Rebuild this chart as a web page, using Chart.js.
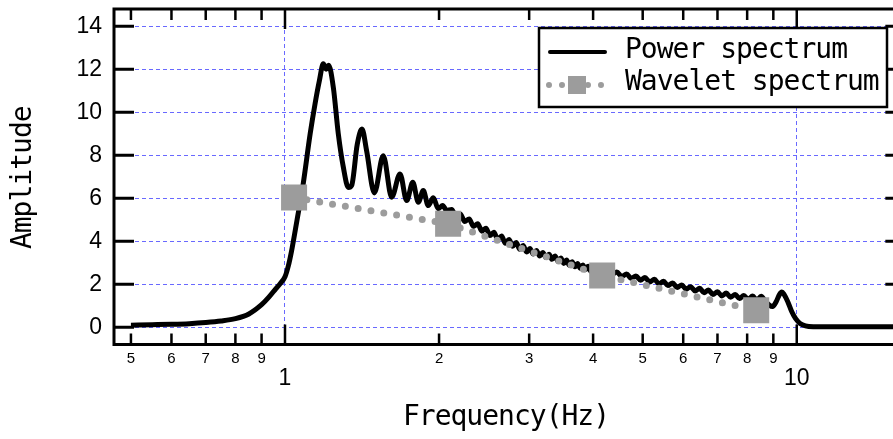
<!DOCTYPE html>
<html>
<head>
<meta charset="utf-8">
<script src="https://cdn.jsdelivr.net/npm/chart.js@4.4.1/dist/chart.umd.min.js"></script>
<style>
  html, body { margin: 0; padding: 0; background: #fff; overflow: hidden; }
  canvas { display: block; }
</style>
</head>
<body>
<canvas id="spectrumChart" width="893" height="439"></canvas>
<script>
// Power spectrum (Hz, amplitude)
const powerFreq = [
  0.50, 0.55, 0.60, 0.65, 0.70, 0.75, 0.80, 0.85, 0.90, 0.93,
  0.96, 0.98, 1.00, 1.015, 1.03, 1.055, 1.085, 1.12, 1.145, 1.167,
  1.188, 1.203, 1.217, 1.243, 1.271, 1.30, 1.33, 1.35, 1.384, 1.414,
  1.444, 1.495, 1.556, 1.616, 1.678, 1.729, 1.777, 1.822, 1.863, 1.905,
  1.949, 1.993, 2.033, 2.07, 2.117, 2.16, 2.20, 2.245, 2.29, 2.335,
  2.38, 2.425, 2.47, 2.515, 2.56, 2.605, 2.65, 2.695, 2.74, 2.785,
  2.83, 2.875, 2.92, 2.965, 3.01, 3.055, 3.10, 3.145, 3.19, 3.235,
  3.28, 3.325, 3.37, 3.415, 3.46, 3.505, 3.55, 3.595, 3.64, 3.685,
  3.73, 3.775, 3.82, 3.865, 3.91, 3.955, 4.05, 4.15, 4.25, 4.35,
  4.45, 4.55, 4.65, 4.75, 4.85, 4.95, 5.05, 5.16, 5.27, 5.38,
  5.49, 5.60, 5.72, 5.84, 5.96, 6.08, 6.20, 6.33, 6.46, 6.59,
  6.72, 6.86, 7.00, 7.14, 7.28, 7.43, 7.58, 7.73, 7.88, 8.04,
  8.20, 8.36, 8.52, 8.68, 8.85, 8.97, 9.12, 9.25, 9.35, 9.45,
  9.60, 9.78, 9.95, 10.15, 10.4, 10.8, 12, 14, 16.3
];
const powerAmp = [
  0.10, 0.12, 0.14, 0.17, 0.22, 0.29, 0.40, 0.62, 1.05, 1.40,
  1.80, 2.05, 2.35, 2.85, 3.55, 4.95, 6.65, 9.00, 10.40, 11.45,
  12.25, 12.00, 12.18, 11.15, 9.00, 7.45, 6.50, 6.60, 8.50, 9.22,
  8.20, 6.25, 7.98, 6.05, 7.13, 5.89, 6.74, 5.81, 6.36, 5.66,
  6.02, 5.51, 5.66, 5.43, 5.48, 5.13, 5.27, 4.92, 5.04, 4.69,
  4.82, 4.47, 4.61, 4.27, 4.42, 4.09, 4.24, 3.91, 4.08, 3.77,
  3.94, 3.63, 3.80, 3.50, 3.66, 3.41, 3.57, 3.32, 3.48, 3.24,
  3.40, 3.16, 3.31, 3.07, 3.22, 2.97, 3.13, 2.88, 3.05, 2.81,
  2.97, 2.74, 2.90, 2.67, 2.84, 2.61, 2.74, 2.54, 2.66, 2.45,
  2.57, 2.37, 2.48, 2.27, 2.39, 2.19, 2.31, 2.11, 2.23, 2.02,
  2.14, 1.94, 2.06, 1.85, 1.97, 1.77, 1.89, 1.69, 1.81, 1.61,
  1.73, 1.53, 1.65, 1.46, 1.59, 1.40, 1.53, 1.34, 1.48, 1.30,
  1.45, 1.26, 1.44, 1.22, 1.02, 0.97, 1.20, 1.52, 1.64, 1.52,
  1.20, 0.72, 0.40, 0.18, 0.07, 0.03, 0.02, 0.02, 0.02
];

// Wavelet spectrum
const waveletFreq = [1.0417, 2.0833, 4.1667, 8.3333];
const waveletAmp = [6.03, 4.81, 2.41, 0.79];

// Axes
const xTickValues = [0.5, 0.6, 0.7, 0.8, 0.9, 1, 2, 3, 4, 5, 6, 7, 8, 9, 10];
const xTickLabels = ['5', '6', '7', '8', '9', '1', '2', '3', '4', '5', '6', '7', '8', '9', '10'];
const xMajorValues = [1, 10];
const yTickValues = [0, 2, 4, 6, 8, 10, 12, 14];
const xFrameEnd = 16.3; // right frame line is just outside the window

const seriesNames = ['Power spectrum', 'Wavelet spectrum'];
const xTitle = 'Frequency(Hz)';
const yTitle = 'Amplitude';

const GRID_BLUE = 'rgb(105,105,255)';
const GREY = '#9c9c9c';
const MONO = '"DejaVu Sans Mono", monospace';

// frame, inward ticks, x labels, titles and the boxed legend
const framePlugin = {
  id: 'framePlugin',
  afterDraw(chart) {
    const { ctx, chartArea: a, scales: { x, y } } = chart;
    const right = x.getPixelForValue(xFrameEnd);
    ctx.save();
    ctx.strokeStyle = '#000';
    ctx.fillStyle = '#000';

    ctx.lineWidth = 2.5;
    xTickValues.forEach(v => {
      const px = x.getPixelForValue(v);
      const len = xMajorValues.includes(v) ? 20 : 11;
      ctx.beginPath();
      ctx.moveTo(px, a.bottom); ctx.lineTo(px, a.bottom - len);
      ctx.moveTo(px, a.top); ctx.lineTo(px, a.top + len);
      ctx.stroke();
    });
    ctx.lineWidth = 3;
    yTickValues.forEach(v => {
      const py = y.getPixelForValue(v);
      ctx.beginPath();
      ctx.moveTo(a.left, py); ctx.lineTo(a.left + 20, py);
      ctx.moveTo(right, py); ctx.lineTo(right - 20, py);
      ctx.stroke();
    });
    ctx.strokeRect(a.left, a.top, right - a.left, a.bottom - a.top);

    // x tick labels: small digits for minor, big for decades
    ctx.textAlign = 'center';
    ctx.textBaseline = 'middle';
    xTickValues.forEach((v, i) => {
      const px = x.getPixelForValue(v);
      if (xMajorValues.includes(v)) {
        ctx.font = '23px "Liberation Sans", Arial, sans-serif';
        ctx.fillText(xTickLabels[i], px, a.bottom + 34);
      } else {
        ctx.font = '15px "Liberation Sans", Arial, sans-serif';
        ctx.fillText(xTickLabels[i], px, a.bottom + 14);
      }
    });

    // axis titles
    ctx.font = '28px ' + MONO;
    ctx.letterSpacing = '-1px';
    ctx.fillText(xTitle, 506, 418);
    ctx.save();
    ctx.translate(23.5, (a.top + a.bottom) / 2 + 1);
    ctx.rotate(-Math.PI / 2);
    ctx.fillText(yTitle, 0, 0);
    ctx.restore();

    // legend
    const lx = 539, ly = 28, lw = 348, lh = 79;
    ctx.fillStyle = '#fff';
    ctx.fillRect(lx, ly, lw, lh);
    ctx.lineWidth = 2.5;
    ctx.strokeStyle = '#000';
    ctx.strokeRect(lx, ly, lw, lh);

    ctx.lineCap = 'round';
    ctx.lineWidth = 4;
    ctx.beginPath();
    ctx.moveTo(550, 52); ctx.lineTo(605, 52);
    ctx.stroke();

    ctx.strokeStyle = GREY;
    ctx.lineWidth = 6;
    ctx.setLineDash([0, 13]);
    ctx.beginPath();
    ctx.moveTo(549, 85); ctx.lineTo(606, 85);
    ctx.stroke();
    ctx.setLineDash([]);
    ctx.fillStyle = GREY;
    ctx.fillRect(568, 76, 18, 18);

    ctx.fillStyle = '#000';
    ctx.textAlign = 'left';
    ctx.fillText(seriesNames[0], 625, 51);
    ctx.fillText(seriesNames[1], 625, 83);
    ctx.restore();
  }
};

const ctxSpectrum = document.getElementById('spectrumChart');

new Chart(ctxSpectrum, {
  type: 'line',
  data: {
    datasets: [
      {
        label: seriesNames[0],
        data: powerFreq.map((f, i) => ({ x: f, y: powerAmp[i] })),
        borderColor: '#000',
        borderWidth: 5,
        pointRadius: 0,
        cubicInterpolationMode: 'monotone',
        order: 2
      },
      {
        label: seriesNames[1],
        data: waveletFreq.map((f, i) => ({ x: f, y: waveletAmp[i] })),
        borderColor: GREY,
        borderWidth: 7,
        borderDash: [0, 13],
        borderCapStyle: 'round',
        pointStyle: 'rect',
        pointRadius: 18.4,
        pointBorderWidth: 0,
        pointBackgroundColor: GREY,
        order: 1
      }
    ]
  },
  options: {
    responsive: false,
    animation: false,
    events: [],
    devicePixelRatio: 1,
    layout: { autoPadding: false, padding: { top: 9, right: 0, left: 0, bottom: 0 } },
    plugins: {
      legend: { display: false },
      tooltip: { enabled: false }
    },
    scales: {
      x: {
        type: 'logarithmic',
        min: 0.4633,
        max: 15.42,
        afterBuildTicks: scale => { scale.ticks = xTickValues.map(v => ({ value: v })); },
        afterFit: scale => { scale.height = 94.5; scale.paddingLeft = 0; scale.paddingRight = 0; },
        ticks: { display: false },
        grid: {
          drawTicks: false,
          lineWidth: 1,
          color: c => (c.tick && xMajorValues.includes(c.tick.value)) ? GRID_BLUE : 'rgba(0,0,0,0)'
        },
        border: { display: false, dash: [4, 3] }
      },
      y: {
        min: -0.8,
        max: 14.8,
        afterBuildTicks: scale => { scale.ticks = yTickValues.map(v => ({ value: v })); },
        afterFit: scale => { scale.width = 114; scale.paddingTop = 0; scale.paddingBottom = 0; },
        ticks: {
          color: '#000',
          padding: 12,
          font: { family: '"Liberation Sans", Arial, sans-serif', size: 23 }
        },
        grid: { drawTicks: false, lineWidth: 1, color: GRID_BLUE },
        border: { display: false, dash: [4, 3] }
      }
    }
  },
  plugins: [framePlugin]
});
</script>
</body>
</html>
